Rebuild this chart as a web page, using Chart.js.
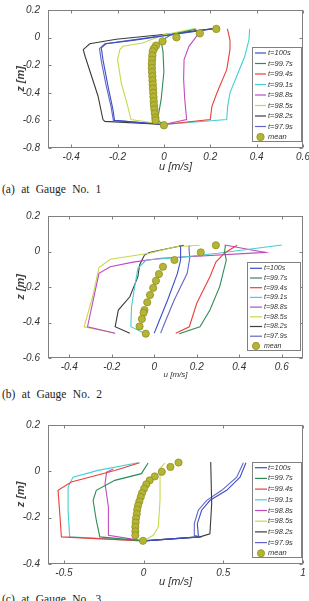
<!DOCTYPE html>
<html>
<head>
<meta charset="utf-8">
<script src="https://cdn.jsdelivr.net/npm/chart.js@4.4.1/dist/chart.umd.min.js"></script>
<style>
  body { margin: 0; background: #fff; width: 309px; height: 601px; overflow: hidden; position: relative; }
  canvas { position: absolute; left: 0; }
  .cap { position: absolute; left: 2px; font: 11.5px "Liberation Serif", serif; color: #222; word-spacing: 3.5px; white-space: nowrap; }
</style>
</head>
<body>
<canvas id="c1" width="309" height="180" style="top:0px"></canvas>
<div class="cap" style="top:183px">(a) at Gauge No. 1</div>
<canvas id="c2" width="309" height="182" style="top:200px"></canvas>
<div class="cap" style="top:388px">(b) at Gauge No. 2</div>
<canvas id="c3" width="309" height="190" style="top:400px"></canvas>
<div class="cap" style="top:593px">(c) at Gauge No. 3</div>
<script>
// legend labels, line colours
const labels = ['t=100s', 't=99.7s', 't=99.4s', 't=99.1s', 't=98.8s', 't=98.5s', 't=98.2s', 't=97.9s'];
const colors = ['#3a4fc8', '#2e8b57', '#e8403a', '#44d0d0', '#c04ac0', '#c8d84a', '#3c3c3c', '#6464c8'];

// ---- Gauge No. 1 : [u, z]
const g1_100 = [[0.222,0.066],[0.05,0.025],[-0.135,-0.02],[-0.25,-0.045],[-0.27,-0.075],[-0.263,-0.16],[-0.241,-0.353],[-0.22,-0.52],[-0.213,-0.6],[0,-0.63]];
const g1_997 = [[0.14,0.062],[0.03,0.02],[-0.012,-0.025],[-0.004,-0.1],[0.0,-0.25],[-0.012,-0.45],[-0.028,-0.6],[0,-0.63]];
const g1_994 = [[0.274,0.063],[0.285,-0.02],[0.285,-0.087],[0.271,-0.232],[0.229,-0.4],[0.207,-0.498],[0.2,-0.594],[0,-0.63]];
const g1_991 = [[0.37,0.063],[0.367,-0.014],[0.349,-0.135],[0.314,-0.28],[0.285,-0.4],[0.275,-0.498],[0.271,-0.594],[0,-0.63]];
const g1_988 = [[0.16,0.045],[0.143,0.014],[0.108,-0.063],[0.087,-0.16],[0.085,-0.3],[0.09,-0.45],[0.098,-0.594],[0,-0.63]];
const g1_985 = [[0.135,0.065],[0.0,0.02],[-0.092,-0.039],[-0.177,-0.063],[-0.19,-0.087],[-0.2,-0.16],[-0.184,-0.328],[-0.156,-0.498],[-0.142,-0.594],[0,-0.63]];
const g1_982 = [[0.225,0.068],[0.05,0.031],[-0.206,-0.012],[-0.32,-0.045],[-0.348,-0.087],[-0.34,-0.135],[-0.312,-0.28],[-0.284,-0.425],[-0.263,-0.594],[-0.255,-0.607],[0,-0.63]];
const g1_979 = [[0.215,0.065],[0.05,0.028],[-0.14,-0.018],[-0.255,-0.045],[-0.278,-0.08],[-0.27,-0.17],[-0.25,-0.34],[-0.228,-0.5],[-0.218,-0.6],[0,-0.63]];
const g1_mean = [[0.226,0.063],[0.155,0.031],[0.054,0.002],[-0.006,-0.027],[-0.034,-0.058],[-0.043,-0.08],[-0.048,-0.1],[-0.05,-0.13],[-0.051,-0.16],[-0.052,-0.19],[-0.052,-0.22],[-0.051,-0.25],[-0.05,-0.28],[-0.049,-0.31],[-0.048,-0.34],[-0.047,-0.37],[-0.046,-0.4],[-0.045,-0.43],[-0.044,-0.46],[-0.043,-0.49],[-0.041,-0.52],[-0.039,-0.55],[-0.037,-0.58],[-0.036,-0.6],[0.0,-0.635]];
const g1_xticks = [-0.4, -0.2, 0, 0.2, 0.4, 0.6];
const g1_yticks = [-0.8, -0.6, -0.4, -0.2, 0, 0.2];

// ---- Gauge No. 2
const g2_100 = [[0.117,0.033],[0.124,0.027],[0.124,-0.048],[0.109,-0.123],[0.063,-0.273],[0.02,-0.4],[0.0,-0.46]];
const g2_997 = [[0.335,0.035],[0.331,0.0],[0.339,-0.048],[0.308,-0.198],[0.262,-0.33],[0.215,-0.424],[0.117,-0.463]];
const g2_994 = [[0.39,0.035],[0.331,-0.008],[0.29,-0.06],[0.262,-0.142],[0.2,-0.292],[0.165,-0.424],[0.101,-0.461]];
const g2_991 = [[0.6,0.037],[0.3,-0.01],[0.1,-0.035],[-0.038,-0.048],[-0.077,-0.095],[-0.092,-0.198],[-0.107,-0.311],[-0.11,-0.424],[-0.046,-0.461]];
const g2_988 = [[0.331,0.037],[0.523,-0.005],[0.032,-0.038],[-0.1,-0.06],[-0.207,-0.086],[-0.26,-0.123],[-0.284,-0.255],[-0.314,-0.424],[-0.184,-0.461]];
const g2_985 = [[0.213,0.035],[0.1,0.027],[-0.023,-0.01],[-0.207,-0.044],[-0.26,-0.09],[-0.29,-0.255],[-0.33,-0.424],[-0.184,-0.461]];
const g2_982 = [[0.139,0.035],[0.032,0.008],[-0.023,-0.006],[-0.046,-0.02],[-0.069,-0.076],[-0.077,-0.142],[-0.115,-0.255],[-0.169,-0.33],[-0.184,-0.424],[-0.115,-0.46]];
const g2_979 = [[0.17,0.033],[0.163,0.027],[0.167,-0.038],[0.155,-0.123],[0.094,-0.273],[0.05,-0.4],[0.03,-0.46]];
const g2_mean = [[0.29,0.035],[0.219,-0.005],[0.095,-0.048],[0.041,-0.086],[0.022,-0.127],[0.008,-0.165],[-0.005,-0.205],[-0.02,-0.245],[-0.033,-0.286],[-0.046,-0.33],[-0.05,-0.345],[-0.058,-0.38],[-0.069,-0.422],[-0.04,-0.463]];
const g2_xticks = [-0.4, -0.2, 0, 0.2, 0.4, 0.6];
const g2_yticks = [-0.6, -0.4, -0.2, 0, 0.2];

// ---- Gauge No. 3
const g3_100 = [[0.642,0.037],[0.605,-0.025],[0.521,-0.082],[0.417,-0.125],[0.364,-0.168],[0.337,-0.226],[0.343,-0.276],[0.35,-0.283],[0,-0.3]];
const g3_997 = [[0.028,0.036],[-0.014,-0.01],[-0.181,-0.039],[-0.297,-0.082],[-0.317,-0.125],[-0.297,-0.211],[-0.275,-0.283],[0,-0.3]];
const g3_994 = [[-0.025,0.037],[-0.181,0.004],[-0.454,-0.046],[-0.537,-0.082],[-0.526,-0.183],[-0.516,-0.283],[0,-0.3]];
const g3_991 = [[-0.035,0.037],[-0.286,0.004],[-0.443,-0.025],[-0.474,-0.068],[-0.474,-0.168],[-0.464,-0.283],[0,-0.3]];
const g3_988 = [[-0.19,0.01],[-0.232,-0.003],[-0.242,-0.053],[-0.221,-0.154],[-0.221,-0.276],[0,-0.3]];
const g3_985 = [[0.134,0.036],[0.103,0.012],[0.103,-0.125],[0.092,-0.24],[0.061,-0.276],[0,-0.3]];
const g3_982 = [[0.421,0.04],[0.427,-0.14],[0.416,-0.27],[0.354,-0.283],[0,-0.3]];
const g3_979 = [[0.626,0.037],[0.584,-0.025],[0.49,-0.082],[0.396,-0.125],[0.343,-0.168],[0.318,-0.226],[0.318,-0.276],[0.35,-0.283],[0,-0.3]];
const g3_mean = [[0.219,0.038],[0.168,0.019],[0.114,-0.002],[0.07,-0.022],[0.038,-0.039],[0.017,-0.056],[0.003,-0.075],[-0.01,-0.094],[-0.018,-0.111],[-0.027,-0.13],[-0.035,-0.148],[-0.04,-0.165],[-0.043,-0.184],[-0.048,-0.203],[-0.05,-0.221],[-0.052,-0.24],[-0.052,-0.259],[-0.052,-0.276],[-0.004,-0.3]];
const g3_xticks = [-0.5, 0, 0.5, 1];
const g3_yticks = [-0.4, -0.2, 0, 0.2];

const FONT = '"Liberation Sans", Arial, sans-serif';
const fmt = v => { const r = Math.round(v * 10) / 10; return r === 0 ? '0' : String(r); };
const pts = arr => arr.map(p => ({ x: p[0], y: p[1] }));

// axes box with inward ticks + legend inside the plot, matlab style
const frame = {
  id: 'frame',
  afterDatasetsDraw(chart, args, o) {
    const { ctx, chartArea: a, scales: { x, y } } = chart;
    ctx.save();
    ctx.strokeStyle = '#808080';
    ctx.lineWidth = 1;
    const L = Math.round(a.left) + 0.5, R = Math.round(a.right) - 0.5;
    const T = Math.round(a.top) + 0.5, B = Math.round(a.bottom) - 0.5;
    ctx.strokeRect(L, T, R - L, B - T);
    ctx.beginPath();
    x.ticks.forEach(t => {
      const p = Math.round(x.getPixelForValue(t.value)) + 0.5;
      ctx.moveTo(p, B); ctx.lineTo(p, B - 3);
      ctx.moveTo(p, T); ctx.lineTo(p, T + 3);
    });
    y.ticks.forEach(t => {
      const p = Math.round(y.getPixelForValue(t.value)) + 0.5;
      ctx.moveTo(L, p); ctx.lineTo(L + 3, p);
      ctx.moveTo(R, p); ctx.lineTo(R - 3, p);
    });
    ctx.stroke();

    // legend
    const [bl, bt, br, bb] = o.box;
    ctx.fillStyle = '#fff';
    ctx.fillRect(bl, bt, br - bl, bb - bt);
    ctx.strokeStyle = '#808080';
    ctx.strokeRect(bl + 0.5, bt + 0.5, br - bl - 1, bb - bt - 1);
    ctx.font = 'italic ' + o.size + 'px ' + FONT;
    ctx.textBaseline = 'middle';
    ctx.textAlign = 'left';
    chart.data.datasets.forEach((d, i) => {
      const yy = o.first + i * o.step;
      if (d.showLine) {
        ctx.strokeStyle = d.borderColor;
        ctx.lineWidth = 1.2;
        ctx.beginPath();
        ctx.moveTo(o.line[0], yy); ctx.lineTo(o.line[1], yy);
        ctx.stroke();
      } else {
        ctx.fillStyle = d.backgroundColor;
        ctx.strokeStyle = d.borderColor;
        ctx.lineWidth = 0.8;
        ctx.beginPath();
        ctx.arc((o.line[0] + o.line[1]) / 2, yy, d.pointRadius, 0, Math.PI * 2);
        ctx.fill(); ctx.stroke();
      }
      ctx.fillStyle = '#333';
      ctx.fillText(d.label, o.textX, yy);
    });
    ctx.restore();
  }
};

function makeChart(id, series, mean, c) {
  const datasets = series.map((s, i) => ({
    label: labels[i], data: pts(s), showLine: true, borderColor: colors[i],
    borderWidth: 1.1, pointRadius: 0, fill: false, tension: 0, order: 1
  }));
  datasets.push({
    label: 'mean', data: pts(mean), showLine: false, pointRadius: c.r,
    backgroundColor: '#b5b534', borderColor: '#8f8f25', borderWidth: 0.8, order: 0
  });
  const tickFont = { family: FONT, size: 10, style: 'italic' };
  return new Chart(document.getElementById(id), {
    type: 'scatter',
    data: { datasets },
    plugins: [frame],
    options: {
      responsive: false, animation: false, devicePixelRatio: 1,
      layout: { padding: { top: c.padTop, right: 6, left: 0, bottom: 0 } },
      plugins: { legend: { display: false }, tooltip: { enabled: false }, frame: c.legend },
      scales: {
        x: {
          type: 'linear', min: c.x[0], max: c.x[1],
          afterBuildTicks: s => { s.ticks = c.xt.map(v => ({ value: v })); },
          afterFit: s => { s.height = c.xH; s.paddingLeft = 0; s.paddingRight = 0; },
          grid: { display: false, drawTicks: false }, border: { display: false },
          ticks: { font: tickFont, color: '#333', padding: 3, maxRotation: 0, autoSkip: false, callback: fmt },
          title: { display: true, text: 'u [m/s]', color: '#333',
                   font: { family: FONT, size: c.xTitle, style: 'italic' }, padding: { top: 0, bottom: c.xTitlePad } }
        },
        y: {
          type: 'linear', min: c.y[0], max: c.y[1],
          afterBuildTicks: s => { s.ticks = c.yt.map(v => ({ value: v })); },
          afterFit: s => { s.width = 48; s.paddingTop = 0; s.paddingBottom = 0; },
          grid: { display: false, drawTicks: false }, border: { display: false },
          ticks: { font: tickFont, color: '#333', padding: 8, autoSkip: false, callback: fmt },
          title: { display: true, text: 'z [m]', color: '#444',
                   font: { family: FONT, size: 11, style: 'italic', weight: 'bold' }, padding: { top: 14, bottom: 0 } }
        }
      }
    }
  });
}

makeChart('c1', [g1_100, g1_997, g1_994, g1_991, g1_988, g1_985, g1_982, g1_979], g1_mean, {
  x: [-0.5, 0.6], xt: g1_xticks, y: [-0.8, 0.2], yt: g1_yticks,
  padTop: 10, xH: 32, xTitle: 11, xTitlePad: 6, r: 3.7,
  legend: { box: [252, 47, 302, 142], first: 53, step: 10.5, line: [255, 266], textX: 268, size: 7.5 }
});
makeChart('c2', [g2_100, g2_997, g2_994, g2_991, g2_988, g2_985, g2_982, g2_979], g2_mean, {
  x: [-0.5, 0.7], xt: g2_xticks, y: [-0.6, 0.2], yt: g2_yticks,
  padTop: 16, xH: 24, xTitle: 8, xTitlePad: 2, r: 3.6,
  legend: { box: [247, 62, 301, 151], first: 68.3, step: 9.7, line: [250, 262], textX: 264, size: 7 }
});
makeChart('c3', [g3_100, g3_997, g3_994, g3_991, g3_988, g3_985, g3_982, g3_979], g3_mean, {
  x: [-0.6, 1], xt: g3_xticks, y: [-0.4, 0.2], yt: g3_yticks,
  padTop: 25, xH: 26, xTitle: 11, xTitlePad: 1, r: 3.6,
  legend: { box: [252, 62, 302, 158], first: 67.7, step: 10.7, line: [255, 267], textX: 268, size: 7.5 }
});
</script>
</body>
</html>
